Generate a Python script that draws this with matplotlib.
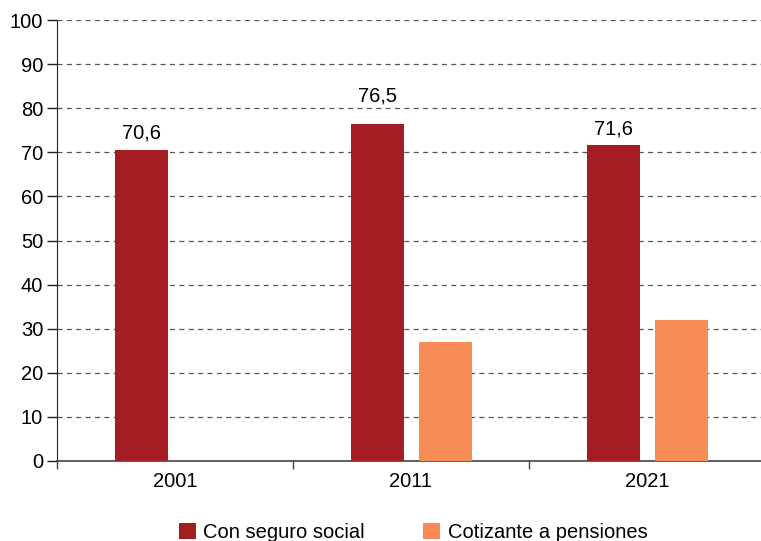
import numpy as np
import matplotlib.pyplot as plt

plt.rcParams['font.family'] = ['Liberation Sans', 'DejaVu Sans']

# datos
anios = ['2001', '2011', '2021']
con_seguro = [70.6, 76.5, 71.6]
cotizante = [np.nan, 27.0, 32.0]
etiquetas = ['70,6', '76,5', '71,6']

rojo = '#a51c22'
naranja = '#f68b55'

fig = plt.figure(figsize=(7.61, 5.41), dpi=100)
ax = fig.add_axes([57 / 761, 80 / 541, 708 / 761, 441 / 541])

x = np.arange(len(anios))
ancho = 0.225
b1 = ax.bar(x - 0.142, con_seguro, ancho, color=rojo, label='Con seguro social', zorder=3)
b2 = ax.bar(x + 0.146, cotizante, ancho, color=naranja, label='Cotizante a pensiones', zorder=3)

# separacion de las etiquetas sobre la barra (la del medio va mas arriba)
sep = [1.6, 4.0, 1.6]
for xi, v, t, s in zip(x, con_seguro, etiquetas, sep):
    ax.text(xi - 0.142, v + s, t, ha='center', va='bottom', fontsize=14.5)

ax.set_xlim(-0.5, len(anios) - 0.5)
ax.set_ylim(0, 100)
ax.set_yticks(range(0, 101, 10))
ax.yaxis.grid(True, linestyle=(0, (4, 3.5)), color='#555555', linewidth=0.9, zorder=0)

# ticks del eje x en los limites de categoria, etiquetas centradas
ax.set_xticks(np.arange(-0.5, len(anios), 1.0))
ax.set_xticklabels([])
ax.set_xticks(x, minor=True)
ax.set_xticklabels(anios, minor=True)
ax.tick_params(axis='x', which='major', length=6, width=1, color='#444444', direction='out')
ax.tick_params(axis='x', which='minor', length=0, labelsize=14.5, pad=8)
ax.tick_params(axis='y', length=7, width=1, labelsize=14.5, pad=3, color='#222222')

for s in ['top', 'right']:
    ax.spines[s].set_visible(False)
ax.spines['left'].set_color('#222222')
ax.spines['bottom'].set_color('#444444')
ax.spines['bottom'].set_linewidth(1.2)

fig.legend(handles=[b1, b2], loc='lower center', bbox_to_anchor=(0.543, -0.035), ncol=2,
           frameon=False, fontsize=14.5, handlelength=0.85, handleheight=0.85,
           handletextpad=0.35, columnspacing=2.9)

fig.savefig('out.png', dpi=100)
